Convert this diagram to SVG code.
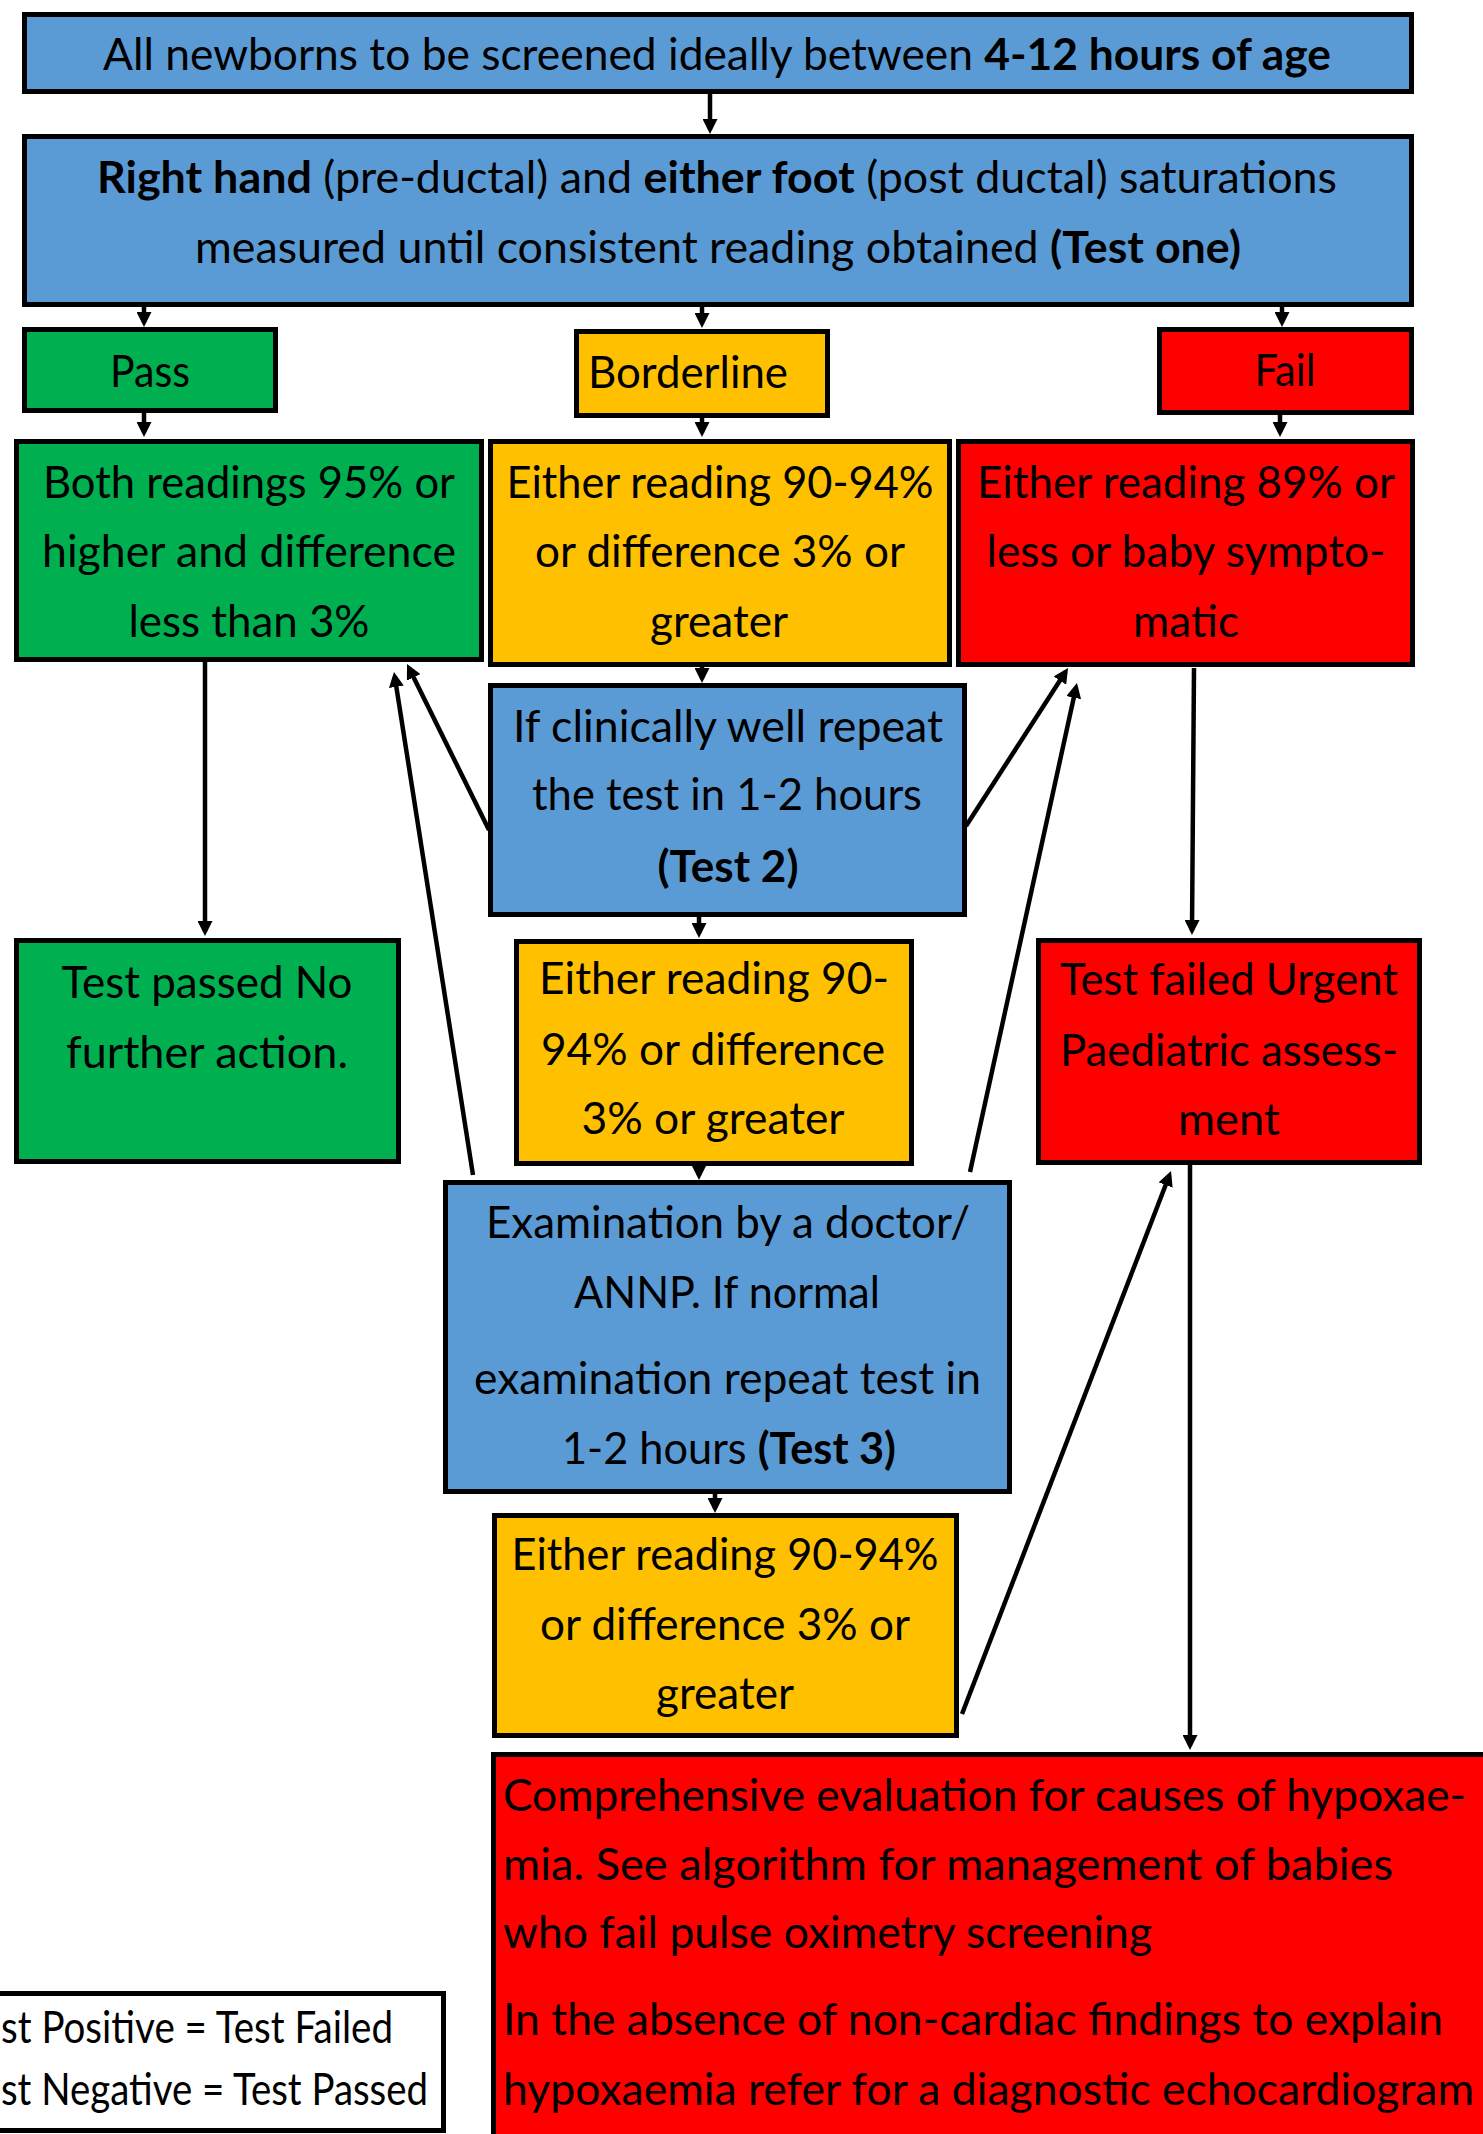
<svg xmlns="http://www.w3.org/2000/svg" width="1483" height="2134" viewBox="0 0 1483 2134">
<style>
.box{stroke:#000;stroke-width:5}
.blue{fill:#5B9BD5}.green{fill:#00B050}.yellow{fill:#FFC000}.red{fill:#FF0000}.white{fill:#FFFFFF}
text{font-family:Lato,"Open Sans","Liberation Sans",sans-serif;font-size:44px;fill:#000}
.c{text-anchor:middle}
.b{font-weight:bold}
.conn line{stroke:#000;stroke-width:4.5;fill:none;marker-end:url(#arr)}
</style>
<defs>
<marker id="arr" viewBox="0 0 10 10" refX="7" refY="5" markerUnits="userSpaceOnUse" markerWidth="15" markerHeight="15" orient="auto">
<path d="M0,0 L10,5 L0,10 z" fill="#000"/>
</marker>
</defs>
<rect width="1483" height="2134" fill="#FFFFFF"/>

<g id="n-start">
<rect class="box blue" x="24.5" y="14.5" width="1387" height="77"/>
<text class="c" x="717" y="70" textLength="1228" lengthAdjust="spacingAndGlyphs">All newborns to be screened ideally between <tspan class="b">4-12 hours of age</tspan></text>
</g>

<g id="n-test1">
<rect class="box blue" x="24.5" y="136.5" width="1387" height="168"/>
<text class="c" x="717" y="193" textLength="1240" lengthAdjust="spacingAndGlyphs"><tspan class="b">Right hand</tspan> (pre-ductal) and <tspan class="b">either foot</tspan> (post ductal) saturations</text>
<text class="c" x="718" y="263" textLength="1046" lengthAdjust="spacingAndGlyphs">measured until consistent reading obtained <tspan class="b">(Test one)</tspan></text>
</g>

<g id="n-pass">
<rect class="box green" x="24.5" y="329.5" width="251" height="81"/>
<text class="c" x="150" y="387" textLength="80" lengthAdjust="spacingAndGlyphs">Pass</text>
</g>

<g id="n-borderline">
<rect class="box yellow" x="576.5" y="331.5" width="251" height="84"/>
<text class="c" x="688" y="388" textLength="200" lengthAdjust="spacingAndGlyphs">Borderline</text>
</g>

<g id="n-fail">
<rect class="box red" x="1159.5" y="329.5" width="252" height="83"/>
<text class="c" x="1285" y="386" textLength="61" lengthAdjust="spacingAndGlyphs">Fail</text>
</g>

<g id="n-pass-criteria">
<rect class="box green" x="16.5" y="441.5" width="465" height="218"/>
<text class="c" x="249" y="498" textLength="412" lengthAdjust="spacingAndGlyphs">Both readings 95% or</text>
<text class="c" x="249" y="567" textLength="414" lengthAdjust="spacingAndGlyphs">higher and difference</text>
<text class="c" x="249" y="637" textLength="241" lengthAdjust="spacingAndGlyphs">less than 3%</text>
</g>

<g id="n-borderline-criteria">
<rect class="box yellow" x="490.5" y="441.5" width="459" height="223"/>
<text class="c" x="720" y="498" textLength="427" lengthAdjust="spacingAndGlyphs">Either reading 90-94%</text>
<text class="c" x="720" y="567" textLength="370" lengthAdjust="spacingAndGlyphs">or difference 3% or</text>
<text class="c" x="719" y="637" textLength="138" lengthAdjust="spacingAndGlyphs">greater</text>
</g>

<g id="n-fail-criteria">
<rect class="box red" x="958.5" y="441.5" width="454" height="223"/>
<text class="c" x="1186" y="498" textLength="418" lengthAdjust="spacingAndGlyphs">Either reading 89% or</text>
<text class="c" x="1186" y="567" textLength="399" lengthAdjust="spacingAndGlyphs">less or baby sympto-</text>
<text class="c" x="1186" y="637" textLength="106" lengthAdjust="spacingAndGlyphs">matic</text>
</g>

<g id="n-test2">
<rect class="box blue" x="490.5" y="685.5" width="474" height="229"/>
<text class="c" x="728" y="742" textLength="430" lengthAdjust="spacingAndGlyphs">If clinically well repeat</text>
<text class="c" x="727" y="810" textLength="390" lengthAdjust="spacingAndGlyphs">the test in 1-2 hours</text>
<text class="c b" x="728" y="882" textLength="141" lengthAdjust="spacingAndGlyphs">(Test 2)</text>
</g>

<g id="n-test-passed">
<rect class="box green" x="16.5" y="940.5" width="382" height="221"/>
<text class="c" x="207" y="998" textLength="291" lengthAdjust="spacingAndGlyphs">Test passed No</text>
<text class="c" x="207" y="1068" textLength="282" lengthAdjust="spacingAndGlyphs">further action.</text>
</g>

<g id="n-borderline2">
<rect class="box yellow" x="516.5" y="941.5" width="395" height="222"/>
<text class="c" x="714" y="994" textLength="350" lengthAdjust="spacingAndGlyphs">Either reading 90-</text>
<text class="c" x="713" y="1065" textLength="344" lengthAdjust="spacingAndGlyphs">94% or difference</text>
<text class="c" x="713" y="1134" textLength="263" lengthAdjust="spacingAndGlyphs">3% or greater</text>
</g>

<g id="n-test-failed">
<rect class="box red" x="1038.5" y="940.5" width="381" height="222"/>
<text class="c" x="1229" y="995" textLength="338" lengthAdjust="spacingAndGlyphs">Test failed Urgent</text>
<text class="c" x="1229" y="1066" textLength="338" lengthAdjust="spacingAndGlyphs">Paediatric assess-</text>
<text class="c" x="1229" y="1135" textLength="102" lengthAdjust="spacingAndGlyphs">ment</text>
</g>

<g id="n-test3">
<rect class="box blue" x="445.5" y="1182.5" width="564" height="309"/>
<text class="c" x="728" y="1238" textLength="484" lengthAdjust="spacingAndGlyphs">Examination by a doctor/</text>
<text class="c" x="727" y="1308" textLength="306" lengthAdjust="spacingAndGlyphs">ANNP. If normal</text>
<text class="c" x="727.5" y="1394" textLength="507" lengthAdjust="spacingAndGlyphs">examination repeat test in</text>
<text class="c" x="729" y="1464" textLength="334" lengthAdjust="spacingAndGlyphs">1-2 hours <tspan class="b">(Test 3)</tspan></text>
</g>

<g id="n-borderline3">
<rect class="box yellow" x="494.5" y="1515.5" width="462" height="220"/>
<text class="c" x="725" y="1570" textLength="427" lengthAdjust="spacingAndGlyphs">Either reading 90-94%</text>
<text class="c" x="725" y="1640" textLength="370" lengthAdjust="spacingAndGlyphs">or difference 3% or</text>
<text class="c" x="725" y="1709" textLength="138" lengthAdjust="spacingAndGlyphs">greater</text>
</g>

<g id="n-evaluation">
<rect class="box red" x="493.5" y="1754.5" width="1000" height="400"/>
<text x="503" y="1811" textLength="963" lengthAdjust="spacingAndGlyphs">Comprehensive evaluation for causes of hypoxae-</text>
<text x="503" y="1880" textLength="890" lengthAdjust="spacingAndGlyphs">mia. See algorithm for management of babies</text>
<text x="503" y="1948" textLength="649" lengthAdjust="spacingAndGlyphs">who fail pulse oximetry screening</text>
<text x="503" y="2035" textLength="940" lengthAdjust="spacingAndGlyphs">In the absence of non-cardiac findings to explain</text>
<text x="503" y="2105" textLength="971" lengthAdjust="spacingAndGlyphs">hypoxaemia refer for a diagnostic echocardiogram</text>
</g>

<g id="n-legend">
<rect class="box white" x="-10" y="1993.5" width="453.5" height="137"/>
<text x="1" y="2043" textLength="392" lengthAdjust="spacingAndGlyphs">st Positive = Test Failed</text>
<text x="1" y="2105" textLength="427" lengthAdjust="spacingAndGlyphs">st Negative = Test Passed</text>
</g>

<g id="connectors" class="conn">
<line x1="710" y1="94" x2="710" y2="129.5"/>
<line x1="144" y1="307" x2="144" y2="322.5"/>
<line x1="702" y1="307" x2="702" y2="323.5"/>
<line x1="1282" y1="307" x2="1282" y2="322.5"/>
<line x1="144" y1="413" x2="144" y2="432.5"/>
<line x1="702" y1="418" x2="702" y2="432.5"/>
<line x1="1280" y1="415" x2="1280" y2="432.5"/>
<line x1="702" y1="667" x2="702" y2="678.5"/>
<line x1="205" y1="662" x2="205" y2="931.5"/>
<line x1="699" y1="917" x2="699" y2="933.5"/>
<line x1="1194" y1="668" x2="1192" y2="930.5"/>
<line x1="699" y1="1166" x2="699" y2="1175.5"/>
<line x1="715" y1="1494" x2="715" y2="1508.5"/>
<line x1="1190" y1="1165" x2="1190" y2="1745.5"/>
<line x1="489" y1="830" x2="409" y2="668"/>
<line x1="473" y1="1175" x2="394.7" y2="676.4"/>
<line x1="966" y1="826" x2="1065.6" y2="671.8"/>
<line x1="970" y1="1172" x2="1076" y2="687.4"/>
<line x1="962" y1="1714" x2="1169.4" y2="1175.2"/>
</g>
</svg>
